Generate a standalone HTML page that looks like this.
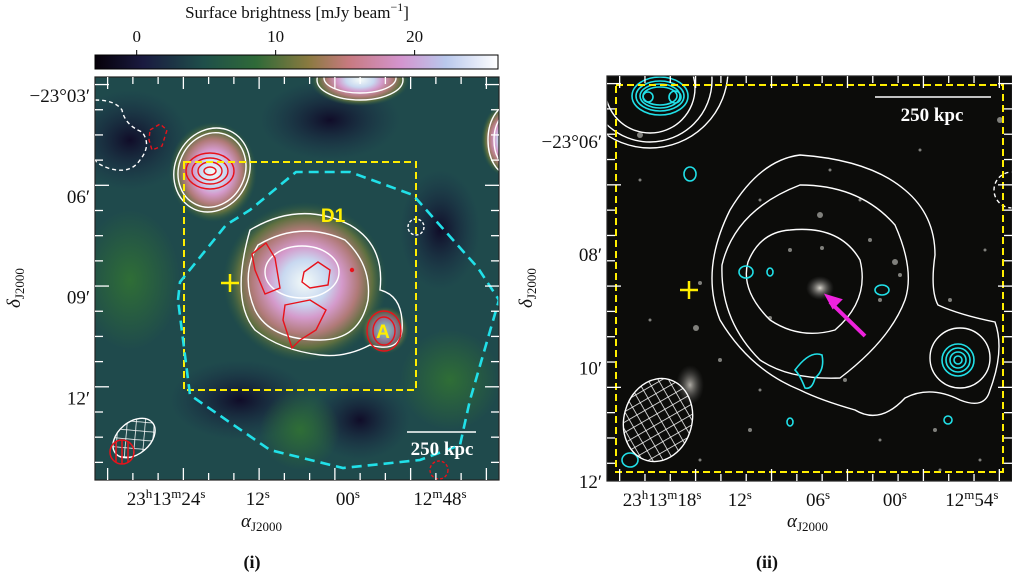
<!DOCTYPE html>
<html><head><meta charset="utf-8"><style>
html,body{margin:0;padding:0;background:#fff;width:1012px;height:573px;overflow:hidden}
svg text{font-family:"Liberation Serif",serif;fill:#111}
</style></head><body>
<svg width="1012" height="573" viewBox="0 0 1012 573" xmlns="http://www.w3.org/2000/svg">
<defs>
<linearGradient id="cmap" x1="0" x2="1" y1="0" y2="0">
<stop offset="0" stop-color="#050008"/><stop offset="0.12" stop-color="#1a1a40"/>
<stop offset="0.27" stop-color="#1f4f4a"/><stop offset="0.4" stop-color="#2f6a38"/>
<stop offset="0.53" stop-color="#8a7a40"/><stop offset="0.63" stop-color="#c77a80"/>
<stop offset="0.76" stop-color="#d495cf"/><stop offset="0.87" stop-color="#b9c8ec"/>
<stop offset="1" stop-color="#ffffff"/></linearGradient>
<radialGradient id="blob"><stop offset="0" stop-color="#f4fbf8"/><stop offset="0.28" stop-color="#c8d8f0"/><stop offset="0.45" stop-color="#d49acb"/><stop offset="0.65" stop-color="#b07a78"/><stop offset="0.82" stop-color="#5f7040"/><stop offset="1" stop-color="#2a5a40" stop-opacity="0"/></radialGradient>
<radialGradient id="dark"><stop offset="0" stop-color="#100c28"/><stop offset="1" stop-color="#1a2a48" stop-opacity="0"/></radialGradient>
<radialGradient id="green"><stop offset="0" stop-color="#2f6e36"/><stop offset="1" stop-color="#2f6e36" stop-opacity="0"/></radialGradient>
<radialGradient id="gal"><stop offset="0" stop-color="#d8d4cc"/><stop offset="1" stop-color="#555" stop-opacity="0"/></radialGradient>
<pattern id="hatch" width="9" height="9" patternUnits="userSpaceOnUse" patternTransform="rotate(45)"><path d="M0 0V9M0 0H9" stroke="#fff" stroke-width="1.5"/></pattern>
<clipPath id="c1"><rect x="95" y="77" width="404" height="403"/></clipPath>
<clipPath id="c2"><rect x="607" y="76" width="405" height="405"/></clipPath>
</defs>

<rect x="95" y="55" width="403" height="14" fill="url(#cmap)" stroke="#000"/>
<text x="297" y="18" text-anchor="middle" font-size="17">Surface brightness [mJy beam<tspan font-size="12" dy="-7">−1</tspan><tspan dy="7">]</tspan></text>
<g id="cbticks"></g>

<g clip-path="url(#c1)">
<rect x="95" y="77" width="404" height="403" fill="#1f4a4c"/>
<ellipse cx="130" cy="140" rx="60" ry="50" fill="url(#dark)"/>
<ellipse cx="330" cy="120" rx="70" ry="40" fill="url(#dark)"/>
<ellipse cx="440" cy="230" rx="40" ry="60" fill="url(#dark)"/>
<ellipse cx="240" cy="400" rx="70" ry="40" fill="url(#dark)"/>
<ellipse cx="360" cy="420" rx="50" ry="40" fill="url(#dark)"/>
<ellipse cx="130" cy="280" rx="50" ry="70" fill="url(#green)"/>
<ellipse cx="450" cy="380" rx="50" ry="50" fill="url(#green)"/>
<ellipse cx="300" cy="430" rx="40" ry="40" fill="url(#green)"/>
<ellipse cx="305" cy="282" rx="82" ry="80" fill="url(#blob)"/>
<ellipse cx="385" cy="330" rx="24" ry="24" fill="url(#blob)" opacity="0.6"/>
<ellipse cx="213" cy="172" rx="44" ry="50" fill="url(#blob)"/>
<ellipse cx="360" cy="80" rx="50" ry="26" fill="url(#blob)"/>
<ellipse cx="505" cy="140" rx="24" ry="36" fill="url(#blob)"/>
<g fill="none" stroke="#fff" stroke-width="1.4">
<path d="M250 230 Q300 200 350 225 Q385 245 380 290 Q400 295 402 320 Q405 355 370 345 Q345 358 320 355 Q280 350 255 330 Q230 300 250 230Z"/>
<path d="M258 245 Q300 220 345 240 Q372 265 368 300 Q360 340 320 340 Q270 340 255 310 Q240 275 258 245Z"/>
<ellipse cx="302" cy="272" rx="37" ry="26"/>
<ellipse cx="212" cy="170" rx="37" ry="43" transform="rotate(25 212 170)"/>
<ellipse cx="212" cy="170" rx="33" ry="38" transform="rotate(25 212 170)"/>
<ellipse cx="360" cy="80" rx="43" ry="20"/><ellipse cx="360" cy="78" rx="36" ry="15"/>
<ellipse cx="508" cy="140" rx="20" ry="34"/><ellipse cx="508" cy="140" rx="14" ry="26"/>
<path d="M95 100 Q115 100 122 110 Q125 125 142 132 Q152 145 140 160 Q130 175 108 168 Q97 164 95 160" stroke-dasharray="4 3"/>
<circle cx="416" cy="227" r="8" stroke-dasharray="3 2"/>
</g>
<g fill="none" stroke="#e8121a" stroke-width="1.4">
<ellipse cx="210" cy="171" rx="24" ry="18"/><ellipse cx="210" cy="171" rx="18" ry="13"/><ellipse cx="210" cy="171" rx="12" ry="9"/><ellipse cx="210" cy="171" rx="6" ry="4"/>
<path d="M252 254 L266 243 L275 258 L280 288 L265 294 L255 270Z"/>
<path d="M304 272 L318 262 L330 270 L328 285 L310 288 L302 282Z"/>
<path d="M285 305 L310 300 L326 310 L316 330 L300 340 L292 348 L283 320Z"/>
<ellipse cx="384" cy="331" rx="17" ry="20"/><ellipse cx="384" cy="331" rx="11" ry="14"/>
<path d="M150 130 L160 124 L167 130 L162 146 L152 150 L149 140Z" stroke-dasharray="4 3"/>
<circle cx="439" cy="470" r="9" stroke-dasharray="3 2"/>
<circle cx="352" cy="270" r="1.5" fill="#e8121a"/>
</g>
<rect x="184" y="162" width="232" height="228" fill="none" stroke="#ffee00" stroke-width="2" stroke-dasharray="7 4"/>
<path d="M178 300 L180 282 L226 225 L250 210 L296 172 L350 172 L413 195 L478 268 L499 300 L470 400 L460 445 L420 460 L343 468 L270 450 L190 395 Z" fill="none" stroke="#21e0e8" stroke-width="2.6" stroke-dasharray="10 6"/>
<path d="M221 283h18M230 274v18" stroke="#ffee00" stroke-width="2.5"/>
<text x="333" y="222" text-anchor="middle" font-weight="bold" font-size="19" style="fill:#ffee00;font-family:'Liberation Sans',sans-serif">D1</text>
<text x="383" y="338" text-anchor="middle" font-weight="bold" font-size="19" style="fill:#ffee00;font-family:'Liberation Sans',sans-serif">A</text>
<ellipse cx="134" cy="438" rx="24" ry="16" transform="rotate(-40 134 438)" fill="url(#hatch)" stroke="#fff" stroke-width="1.4"/>
<circle cx="122" cy="452" r="12" fill="none" stroke="#e8121a" stroke-width="1.5"/>
<path d="M116 442v20M122 440v24M128 442v20" stroke="#e8121a" stroke-width="1.5"/>
<line x1="407" y1="432" x2="476" y2="432" stroke="#fff" stroke-width="1.5"/>
<text x="442" y="455" text-anchor="middle" font-weight="bold" font-size="19" style="fill:#fff">250 kpc</text>
</g>
<rect x="95" y="77" width="404" height="403" fill="none" stroke="#222" stroke-width="1.2"/>
<g id="ticks1"></g>
<text x="241" y="527" font-size="19" font-style="italic">α<tspan font-style="normal" font-size="13" dy="4">J2000</tspan></text>
<text transform="translate(20 308) rotate(-90)" font-size="19" font-style="italic">δ<tspan font-style="normal" font-size="13" dy="4">J2000</tspan></text>
<text x="252" y="568" text-anchor="middle" font-size="18" font-weight="bold">(i)</text>

<g clip-path="url(#c2)">
<rect x="607" y="76" width="405" height="405" fill="#0c0c0a"/>
<g id="stars"></g>
<ellipse cx="820" cy="288" rx="14" ry="12" fill="url(#gal)"/>
<ellipse cx="690" cy="385" rx="14" ry="20" fill="url(#gal)" opacity="0.8"/>
<g fill="none" stroke="#fff" stroke-width="1.4">
<path d="M800 155 Q870 160 905 190 Q935 215 935 255 Q930 290 938 305 Q960 315 995 322 Q1005 350 990 390 Q985 410 960 400 Q930 385 905 398 Q880 425 855 410 Q820 400 800 390 Q750 370 720 320 Q700 270 730 210 Q760 160 800 155Z"/>
<path d="M800 185 Q860 185 895 225 Q915 270 905 300 Q890 340 840 378 Q790 380 760 360 Q720 320 722 265 Q735 210 800 185Z"/>
<path d="M790 230 Q840 225 860 260 Q870 300 835 330 Q800 340 770 320 Q740 290 748 262 Q760 232 790 230Z"/>
<ellipse cx="960" cy="358" rx="30" ry="30"/>
<circle cx="650" cy="88" r="45"/><circle cx="650" cy="80" r="62"/><circle cx="650" cy="70" r="78"/>
<circle cx="1012" cy="190" r="18" stroke-dasharray="4 3"/>
</g>
<g fill="none" stroke="#21e0e8" stroke-width="1.6">
<ellipse cx="660" cy="96" rx="28" ry="19"/><ellipse cx="660" cy="96" rx="24" ry="15"/><ellipse cx="660" cy="96" rx="20" ry="12"/><ellipse cx="660" cy="96" rx="17" ry="9"/>
<circle cx="648" cy="97" r="5"/><circle cx="675" cy="97" r="6"/>
<circle cx="958" cy="360" r="16"/><circle cx="958" cy="360" r="12"/><circle cx="958" cy="360" r="8"/><circle cx="958" cy="360" r="4"/>
<path d="M795 370 Q810 350 822 355 Q825 370 815 378 Q812 390 805 388 Q800 375 795 370Z"/>
<ellipse cx="746" cy="272" rx="7" ry="6"/><ellipse cx="770" cy="272" rx="3" ry="4"/><ellipse cx="882" cy="290" rx="7" ry="5"/>
<ellipse cx="690" cy="174" rx="6" ry="7"/><ellipse cx="630" cy="460" rx="8" ry="7"/>
<ellipse cx="790" cy="422" rx="3" ry="4"/><ellipse cx="948" cy="420" rx="4" ry="4"/>
</g>
<rect x="616" y="85" width="387" height="387" fill="none" stroke="#ffee00" stroke-width="2" stroke-dasharray="7 4"/>
<path d="M680 290h18M689 281v18" stroke="#ffee00" stroke-width="2.5"/>
<line x1="865" y1="336" x2="830" y2="302" stroke="#ee22dd" stroke-width="4"/>
<path d="M827 296 L840 300 L833 307Z" fill="#ee22dd" stroke="#ee22dd" stroke-width="3"/>
<ellipse cx="658" cy="420" rx="34" ry="42" transform="rotate(15 658 420)" fill="url(#hatch)" stroke="#fff" stroke-width="1.4"/>
<line x1="875" y1="97" x2="991" y2="97" stroke="#fff" stroke-width="1.5"/>
<text x="932" y="121" text-anchor="middle" font-weight="bold" font-size="19" style="fill:#fff">250 kpc</text>
</g>
<rect x="607" y="76" width="405" height="405" fill="none" stroke="#222" stroke-width="1.2"/>
<g id="ticks2"></g>
<text x="787" y="527" font-size="19" font-style="italic">α<tspan font-style="normal" font-size="13" dy="4">J2000</tspan></text>
<text transform="translate(532 308) rotate(-90)" font-size="19" font-style="italic">δ<tspan font-style="normal" font-size="13" dy="4">J2000</tspan></text>
<text x="767" y="568" text-anchor="middle" font-size="18" font-weight="bold">(ii)</text>
</svg>
<script>
const cbTicks=[0,10,20];
const cbMin=-3, cbMax=26;
const x1Labels=[["23","h","13","m","24","s"],["12","s"],["00","s"],["12","m","48","s"]];
const x1Pos=[0.176,0.403,0.626,0.854];
const y1Labels=["−23°03′","06′","09′","12′"];
const y1Pos=[0.045,0.295,0.545,0.795];
const x2Labels=[["23","h","13","m","18","s"],["12","s"],["06","s"],["00","s"],["12","m","54","s"]];
const x2Pos=[0.136,0.328,0.521,0.711,0.901];
const y2Labels=["−23°06′","08′","10′","12′"];
const y2Pos=[0.16,0.44,0.72,1.0];
const NS="http://www.w3.org/2000/svg";
function mk(tag,attrs,parent){const e=document.createElementNS(NS,tag);for(const k in attrs)e.setAttribute(k,attrs[k]);parent.appendChild(e);return e;}
const cb=document.getElementById('cbticks');
cbTicks.forEach(v=>{const x=95+(v-cbMin)/(cbMax-cbMin)*403;
 mk('line',{x1:x,x2:x,y1:55,y2:50,stroke:'#000'},cb);
 const t=mk('text',{x:x,y:42,'text-anchor':'middle','font-size':17},cb);t.textContent=v;
 
 });
function axes(g,L,T,W,H,xl,xp,yl,yp){
 for(let i=0;i<16;i++){const x=L+W*(i+0.5)/16;const big=i%3==0;
  mk('line',{x1:x,x2:x,y1:T,y2:T+(big?12:7),stroke:'#fff','stroke-width':1.3},g);
  mk('line',{x1:x,x2:x,y1:T+H,y2:T+H-(big?12:7),stroke:'#fff','stroke-width':1.3},g);}
 for(let i=0;i<16;i++){const y=T+H*(i+0.3)/16;const big=i%4==0;
  mk('line',{x1:L,x2:L+(big?14:8),y1:y,y2:y,stroke:'#fff','stroke-width':1.3},g);
  mk('line',{x1:L+W,x2:L+W-(big?14:8),y1:y,y2:y,stroke:'#fff','stroke-width':1.3},g);}
 xl.forEach((parts,i)=>{const t=mk('text',{x:L+W*xp[i],y:T+H+25,'text-anchor':'middle','font-size':19},g);
  
  
  parts.forEach((p,j)=>{const s=mk('tspan',j%2?{'font-size':13,dy:-7}:{'font-size':19,dy:j?7:0},t);s.textContent=p;});});
 yl.forEach((l,i)=>{const t=mk('text',{x:L-5,y:T+H*yp[i]+7,'text-anchor':'end','font-size':19},g);t.textContent=l;
  
  });
}
axes(document.getElementById('ticks1'),95,77,404,403,x1Labels,x1Pos,y1Labels,y1Pos);
axes(document.getElementById('ticks2'),607,76,405,405,x2Labels,x2Pos,y2Labels,y2Pos);
const st=document.getElementById('stars');
const starList=[[640,135,3],[700,283,2],[696,328,3],[770,318,2],[880,300,2],[900,275,2],[895,262,3],[870,240,2],[950,300,2],[985,250,1.5],[720,360,2],[760,390,1.5],[935,430,2],[880,440,1.5],[845,380,2],[1000,120,3],[650,320,1.5],[640,180,1.5],[790,250,2],[860,200,1.5],[830,170,1.5],[760,200,1.5],[920,150,1.5],[700,460,1.5],[980,460,1.5],[820,215,3],[822,248,2],[750,430,2],[940,470,1.5]];
starList.forEach(s=>mk('circle',{cx:s[0],cy:s[1],r:s[2],fill:'#cfcfc8',opacity:0.6},st));
</script>
</body></html>
